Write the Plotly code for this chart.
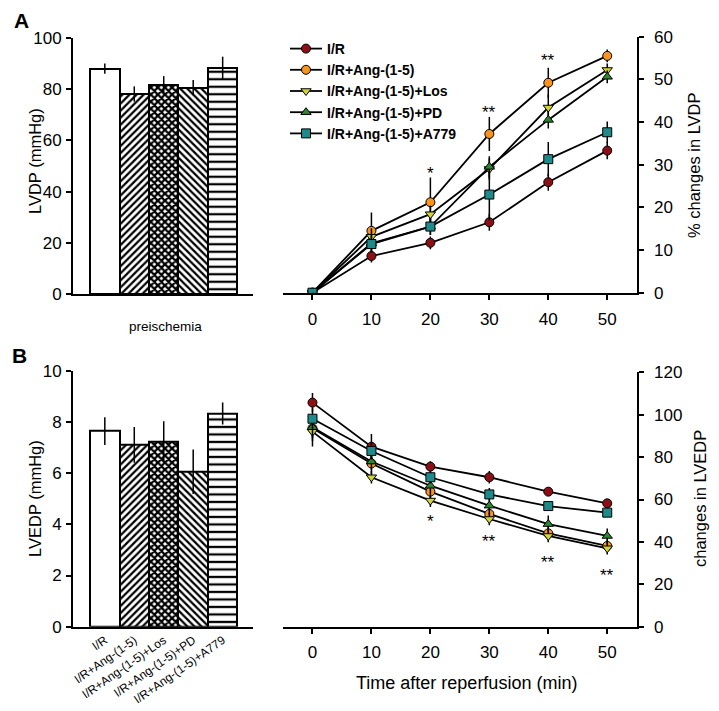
import plotly.graph_objects as go

# ---------------- data ----------------
groups = ["I/R", "I/R+Ang-(1-5)", "I/R+Ang-(1-5)+Los", "I/R+Ang-(1-5)+PD", "I/R+Ang-(1-5)+A779"]
lvdp_pre = [88.0, 78.1, 81.6, 80.6, 88.2]
lvdp_pre_err = [2.0, 3.0, 3.5, 3.0, 4.5]
lvedp_pre = [7.64, 7.10, 7.23, 6.05, 8.33]
lvedp_pre_err = [0.54, 0.70, 0.80, 0.87, 0.43]

time_min = [0, 10, 20, 30, 40, 50]

lvdp_pct = {
    "I/R": [0, 8.6, 11.7, 16.5, 25.9, 33.3],
    "I/R+Ang-(1-5)": [0, 14.5, 21.2, 37.2, 49.2, 55.5],
    "I/R+Ang-(1-5)+Los": [0, 13.1, 18.4, 29.0, 43.4, 52.2],
    "I/R+Ang-(1-5)+PD": [0, 11.6, 15.5, 29.5, 40.5, 50.6],
    "I/R+Ang-(1-5)+A779": [0, 11.4, 15.5, 23.0, 31.3, 37.6],
}
lvdp_pct_err = {
    "I/R": [0, 1.5, 1.5, 2.0, 2.0, 2.0],
    "I/R+Ang-(1-5)": [0, 4.3, 5.8, 4.0, 3.5, 1.5],
    "I/R+Ang-(1-5)+Los": [0, 2.0, 2.0, 2.5, 3.0, 1.5],
    "I/R+Ang-(1-5)+PD": [0, 2.0, 2.0, 2.5, 2.0, 1.5],
    "I/R+Ang-(1-5)+A779": [0, 2.0, 2.0, 6.0, 4.0, 2.5],
}
lvedp_pct = {
    "I/R": [105.7, 84.9, 75.5, 70.5, 63.7, 58.2],
    "I/R+Ang-(1-5)": [93.6, 77.0, 63.7, 53.2, 44.0, 38.1],
    "I/R+Ang-(1-5)+Los": [92.0, 70.5, 59.5, 50.8, 42.8, 37.0],
    "I/R+Ang-(1-5)+PD": [94.1, 77.9, 66.5, 57.1, 48.4, 42.8],
    "I/R+Ang-(1-5)+A779": [98.1, 82.9, 70.5, 62.4, 56.9, 53.8],
}
lvedp_pct_err = {
    "I/R": [4.5, 6.0, 2.5, 3.0, 2.0, 2.0],
    "I/R+Ang-(1-5)": [6.0, 5.0, 4.0, 4.0, 3.0, 3.0],
    "I/R+Ang-(1-5)+Los": [7.0, 3.0, 3.0, 3.0, 3.0, 3.0],
    "I/R+Ang-(1-5)+PD": [5.0, 4.0, 4.0, 4.0, 4.0, 3.5],
    "I/R+Ang-(1-5)+A779": [5.0, 4.0, 3.0, 3.0, 2.0, 2.0],
}

sig_top = {"x": [20, 30, 40, 50], "y": [28.0, 42.3, 54.5, 61.3], "text": ["*", "**", "**", "**"]}
sig_bot = {"x": [20, 30, 40, 50], "y": [49.5, 40.0, 30.5, 24.2], "text": ["*", "**", "**", "**"]}

# ---------------- styles ----------------
W, H = 719, 711
FONT = "Arial, Liberation Sans, sans-serif"
colors = ["#8B1016", "#F7941D", "#D2D23A", "#2E8530", "#1E8A8A"]
symbols = ["circle", "circle", "triangle-down", "triangle-up", "square"]
pat_shapes = ["", "/", "x", "\\", "-"]
pat_size = [6, 5, 5, 5, 7.5]
pat_sol = [0.2, 0.45, 0.7, 0.45, 0.3]

def px2x(p):
    return p / W

def px2y(p):
    return (H - p) / H

fig = go.Figure()
bar_x = list(range(len(groups)))

def add_bars(vals, errs, xa, ya):
    fig.add_trace(go.Bar(
        x=bar_x, y=vals, width=1.0, xaxis=xa, yaxis=ya, showlegend=False,
        marker=dict(color="white", line=dict(color="black", width=2),
                    pattern=dict(shape=pat_shapes, size=pat_size, solidity=pat_sol,
                                 fgcolor="black", bgcolor="white", fillmode="replace")),
        error_y=dict(type="data", array=errs, visible=True, color="black", thickness=1.5, width=0),
    ))

add_bars(lvdp_pre, lvdp_pre_err, "x", "y")
add_bars(lvedp_pre, lvedp_pre_err, "x3", "y3")

for i, g in enumerate(groups):
    fig.add_trace(go.Scatter(
        x=time_min, y=lvdp_pct[g], name=g, mode="lines+markers", xaxis="x2", yaxis="y2",
        line=dict(color="black", width=1.8),
        marker=dict(symbol=symbols[i], size=9, color=colors[i], line=dict(color="black", width=1)),
        error_y=dict(type="data", array=lvdp_pct_err[g], visible=True, color="black", thickness=1.5, width=0),
        showlegend=True,
    ))
for i, g in enumerate(groups):
    fig.add_trace(go.Scatter(
        x=time_min, y=lvedp_pct[g], name=g, mode="lines+markers", xaxis="x4", yaxis="y4",
        line=dict(color="black", width=1.8),
        marker=dict(symbol=symbols[i], size=9, color=colors[i], line=dict(color="black", width=1)),
        error_y=dict(type="data", array=lvedp_pct_err[g], visible=True, color="black", thickness=1.5, width=0),
        showlegend=False,
    ))

ax_common = dict(showline=True, linecolor="black", linewidth=2, showgrid=False, zeroline=False,
                 tickfont=dict(size=17, color="black", family=FONT), ticks="outside",
                 ticklen=5, tickwidth=1.5, tickcolor="black", automargin=False)

dom_xl = [px2x(73), px2x(253)]
dom_xr = [px2x(283), px2x(636.7)]

fig.update_layout(
    width=W, height=H, margin=dict(l=0, r=0, t=0, b=0, autoexpand=False),
    paper_bgcolor="white", plot_bgcolor="white",
    font=dict(family=FONT, color="black"),
    bargap=0,
    xaxis=dict(domain=dom_xl, anchor="y", range=[-1.08, 5.03], showline=True, linecolor="black",
               linewidth=2, showgrid=False, zeroline=False, showticklabels=False, ticks="",
               automargin=False),
    yaxis=dict(domain=[px2y(294), px2y(38)], anchor="x", range=[0, 100], dtick=20,
               ticklabelstandoff=1, **ax_common),
    xaxis2=dict(domain=dom_xr, anchor="y2", range=[-5, 55], tickvals=time_min,
                ticklabelstandoff=5, **ax_common),
    yaxis2=dict(domain=[px2y(292.7), px2y(36.7)], anchor="x2", side="right", range=[0, 60],
                dtick=10, ticklabelstandoff=7, **ax_common),
    xaxis3=dict(domain=dom_xl, anchor="y3", range=[-1.08, 5.03], showline=True, linecolor="black",
                linewidth=2, showgrid=False, zeroline=False, ticks="", tickvals=bar_x, ticktext=groups,
                tickangle=-35, tickfont=dict(size=12, color="black", family=FONT), automargin=False),
    yaxis3=dict(domain=[px2y(626.7), px2y(370.7)], anchor="x3", range=[0, 10], dtick=2,
                ticklabelstandoff=1, **ax_common),
    xaxis4=dict(domain=dom_xr, anchor="y4", range=[-5, 55], tickvals=time_min,
                ticklabelstandoff=4, **ax_common),
    yaxis4=dict(domain=[px2y(626.7), px2y(372.3)], anchor="x4", side="right", range=[0, 120],
                dtick=20, ticklabelstandoff=7, **ax_common),
    legend=dict(x=px2x(285), y=px2y(33), xanchor="left", yanchor="top", bgcolor="rgba(0,0,0,0)",
                font=dict(size=14, family=FONT, color="black", weight="bold"),
                itemwidth=32, tracegroupgap=0),
)

ann = []
def text_ann(x, y, text, size, angle=0, bold=False):
    ann.append(dict(x=px2x(x), y=px2y(y), xref="paper", yref="paper", text=(f"<b>{text}</b>" if bold else text),
                    showarrow=False, textangle=angle, xanchor="center", yanchor="middle",
                    font=dict(size=size, family=FONT, color="black")))

text_ann(21, 20, "A", 21, bold=True)
text_ann(19, 355, "B", 21, bold=True)
text_ann(35, 161, "LVDP (mmHg)", 16.5, angle=-90)
text_ann(35, 499, "LVEDP (mmHg)", 16.5, angle=-90)
text_ann(694, 165, "% changes in LVDP", 16.5, angle=-90)
text_ann(700, 499, "changes in LVEDP", 16.5, angle=-90)
text_ann(165, 326, "preischemia", 13.5)
text_ann(466, 683, "Time after reperfusion (min)", 18)

for xv, yv, t in zip(sig_top["x"], sig_top["y"], sig_top["text"]):
    ann.append(dict(x=xv, y=yv, xref="x2", yref="y2", text=t, showarrow=False,
                    font=dict(size=17, family=FONT, color="black")))
for xv, yv, t in zip(sig_bot["x"], sig_bot["y"], sig_bot["text"]):
    ann.append(dict(x=xv, y=yv, xref="x4", yref="y4", text=t, showarrow=False,
                    font=dict(size=17, family=FONT, color="black")))

fig.update_layout(annotations=ann)
fig.write_html("out.html")
